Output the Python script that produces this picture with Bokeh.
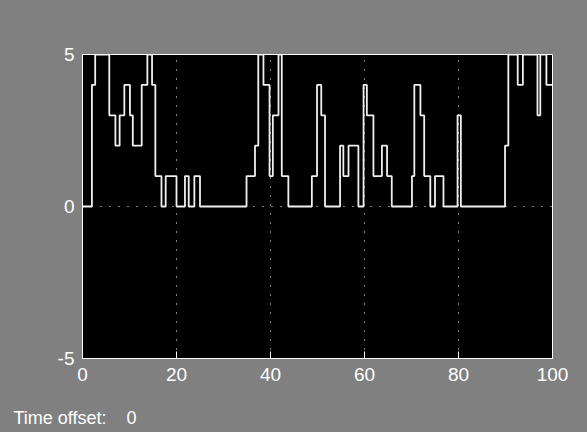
from bokeh.plotting import figure
from bokeh.models import FixedTicker, Title, GlobalInlineStyleSheet
from bokeh.embed import file_html
from bokeh.resources import INLINE

# step change times and the value held from each time onward
times = [0, 2.0, 2.7, 5.7, 7.0, 7.9, 8.9, 10.1, 10.7, 12.6,
         13.8, 14.8, 15.5, 16.8, 17.7, 20.0, 21.8, 22.6, 23.8, 25.0,
         34.9, 36.7, 37.4, 38.5, 39.8, 40.5, 41.7, 42.4, 43.8, 48.8,
         49.9, 50.8, 51.6, 54.8, 55.5, 56.6, 58.7, 59.8, 60.5, 61.9,
         63.7, 64.8, 65.8, 70.1, 70.6, 71.9, 72.7, 74.0, 75.0, 76.8,
         79.8, 80.5, 89.9, 90.6, 92.6, 93.7, 96.8, 97.4, 98.7, 100]
values = [0, 4, 5, 3, 2, 3, 4, 3, 2, 4,
          5, 4, 1, 0, 1, 0, 1, 0, 1, 0,
          1, 2, 5, 4, 1, 3, 5, 1, 0, 1,
          4, 3, 0, 2, 1, 2, 0, 4, 3, 1,
          2, 1, 0, 1, 4, 3, 1, 0, 1, 0,
          3, 0, 2, 5, 4, 5, 3, 5, 4, 4]

x_ticks = [0, 20, 40, 60, 80, 100]
y_ticks = [-5, 0, 5]
y_tick_labels = {-5: "-5", 0: "0", 5: "5"}
offset_text = "Time offset:\u00a0\u00a0\u00a0\u00a00"

GRAY = "#808080"
FONT = "Liberation Sans"

p = figure(width=587, height=432, x_range=(0, 100), y_range=(-5, 5),
           output_backend="svg", toolbar_location=None,
           min_border_left=82, min_border_right=35,
           min_border_top=54, min_border_bottom=74,
           background_fill_color="black", border_fill_color=GRAY)
p.outline_line_color = "white"
p.outline_line_width = 1

for ax, ticks in ((p.xaxis, x_ticks), (p.yaxis, y_ticks)):
    ax.ticker = FixedTicker(ticks=ticks)
    ax.axis_line_color = "white"
    ax.major_tick_line_color = "white"
    ax.major_tick_in = 7
    ax.major_tick_out = 0
    ax.minor_tick_line_color = None
    ax.major_label_text_color = "white"
    ax.major_label_text_font = FONT
    ax.major_label_text_font_size = "19px"

p.yaxis.major_label_overrides = y_tick_labels
p.xaxis.major_label_standoff = 9
p.yaxis.major_label_standoff = 8

# invisible spacer below the x tick labels, so that the offset line sits lower
p.xaxis.axis_label = "\u00a0"
p.xaxis.axis_label_text_font_size = "12px"
p.xaxis.axis_label_standoff = 7

p.xgrid.ticker = FixedTicker(ticks=x_ticks)
p.ygrid.ticker = FixedTicker(ticks=y_ticks)
for g in (p.xgrid, p.ygrid):
    g.grid_line_color = "white"
    g.grid_line_dash = "1 8"
    g.grid_line_width = 1

p.step(times, values, mode="after", line_color="#f0f0f0", line_width=1.8)

p.add_layout(Title(text=offset_text, align="left", offset=-69,
                   vertical_align="top",
                   text_color="white", text_font=FONT, text_font_size="18px",
                   text_font_style="normal", standoff=0), "below")

p.stylesheets = [GlobalInlineStyleSheet(css="body { background: #808080; }")]

open("out.html", "w").write(file_html(p, INLINE))
